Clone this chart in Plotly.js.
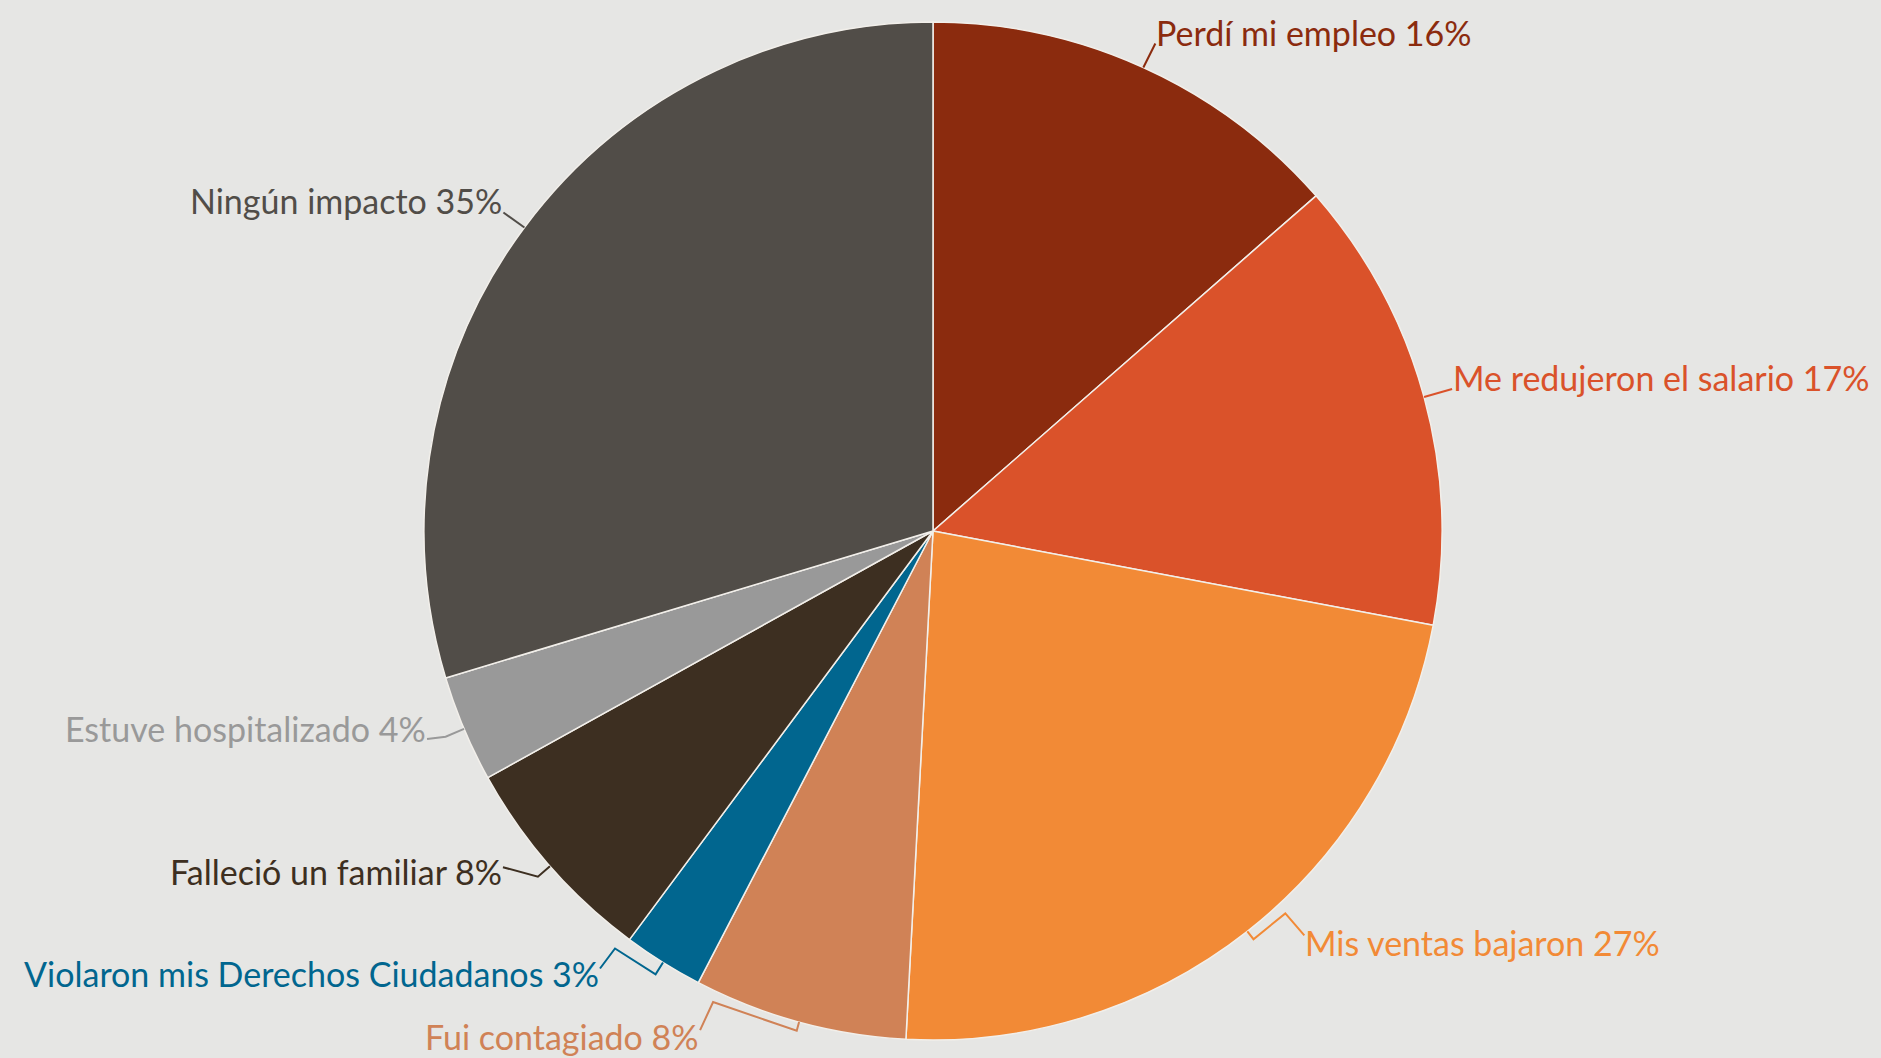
<!DOCTYPE html>
<html>
<head>
<meta charset="utf-8">
<script src="https://cdn.plot.ly/plotly-3.0.1.min.js"></script>
<style>
  html, body { margin: 0; padding: 0; background: #e6e6e4; }
  #chart { width: 1881px; height: 1058px; }
</style>
</head>
<body>
<div id="chart"></div>
<script>
// ---- data ----
const labels = [
  "Perdí mi empleo",
  "Me redujeron el salario",
  "Mis ventas bajaron",
  "Fui contagiado",
  "Violaron mis Derechos Ciudadanos",
  "Falleció un familiar",
  "Estuve hospitalizado",
  "Ningún impacto"
];
const values = [16, 17, 27, 8, 3, 8, 4, 35];
const sliceColors = ["#8b2b0e", "#da522a", "#f28a36", "#d08256", "#01668f", "#3d2f21", "#999999", "#514d48"];
const textColors  = ["#8b2b0e", "#da522a", "#f28a36", "#d08256", "#01668f", "#3d2f21", "#999999", "#514d48"];

// ---- layout config (pixels) ----
const W = 1881, H = 1058;
const CX = 933, CY = 531, R = 509;
const FONT = "Lato, 'Open Sans', sans-serif";
const FS = 34;
// connector geometry relative to the slice edge point (px): radial tick, optional elbow, anchor; side; baseline offset
const labelLayout = [
  { radial: 0,  elbow: null,        anchor: [12, -24],  side: "left",  base: 0 },
  { radial: 0,  elbow: null,        anchor: [28, -8],   side: "left",  base: 0 },
  { radial: 10, elbow: [38, -18],   anchor: [57, 4],    side: "left",  base: 18 },
  { radial: 9,  elbow: [-86, -20],  anchor: [-99, 8],   side: "right", base: 18 },
  { radial: 14, elbow: [-48, -14],  anchor: [-63, 6],   side: "right", base: 16 },
  { radial: 16, elbow: null,        anchor: [-47, 1],   side: "right", base: 16 },
  { radial: 20, elbow: null,        anchor: [-37, 10],  side: "right", base: 1 },
  { radial: 0,  elbow: null,        anchor: [-21, -15], side: "right", base: -1 }
];

const total = values.reduce((a, b) => a + b, 0);
const px2x = p => p / W;
const py2y = p => 1 - p / H;

const shapes = [];
const annotations = [];
let cum = 0;
values.forEach((v, i) => {
  const mid = (cum + v / 2) / total * 2 * Math.PI;
  cum += v;
  const s = Math.sin(mid), c = Math.cos(mid);
  const ex = CX + R * s, ey = CY - R * c;
  const L = labelLayout[i];
  const pts = [[ex, ey]];
  if (L.radial > 0) pts.push([ex + L.radial * s, ey - L.radial * c]);
  if (L.elbow) pts.push([ex + L.elbow[0], ey + L.elbow[1]]);
  const ax = ex + L.anchor[0], ay = ey + L.anchor[1];
  pts.push([ax, ay]);
  const path = pts.map((p, k) => (k === 0 ? "M" : "L") + px2x(p[0]).toFixed(5) + "," + py2y(p[1]).toFixed(5)).join(" ");
  shapes.push({
    type: "path", xref: "paper", yref: "paper", path: path,
    line: { color: textColors[i], width: 2 }, layer: "above"
  });
  const baseline = ay + L.base;
  const midY = baseline - 0.33 * FS;
  annotations.push({
    xref: "paper", yref: "paper",
    x: px2x(ax),
    y: py2y(midY),
    xanchor: L.side, yanchor: "middle",
    showarrow: false,
    text: labels[i] + " " + values[i] + "%",
    font: { family: FONT, size: FS, color: textColors[i] },
    borderpad: 0
  });
});

const trace = {
  type: "pie",
  labels: labels,
  values: values,
  sort: false,
  direction: "clockwise",
  rotation: 0,
  textinfo: "none",
  hoverinfo: "label+percent",
  showlegend: false,
  marker: { colors: sliceColors, line: { color: "#f2efea", width: 1.5 } },
  domain: {
    x: [(CX - R) / W, (CX + R) / W],
    y: [(H - CY - R) / H, (H - CY + R) / H]
  }
};

const layout = {
  width: W, height: H,
  margin: { l: 0, r: 0, t: 0, b: 0 },
  paper_bgcolor: "#e6e6e4",
  plot_bgcolor: "#e6e6e4",
  font: { family: FONT },
  shapes: shapes,
  annotations: annotations
};

Plotly.newPlot("chart", [trace], layout, { displayModeBar: false, staticPlot: true });
</script>
</body>
</html>
